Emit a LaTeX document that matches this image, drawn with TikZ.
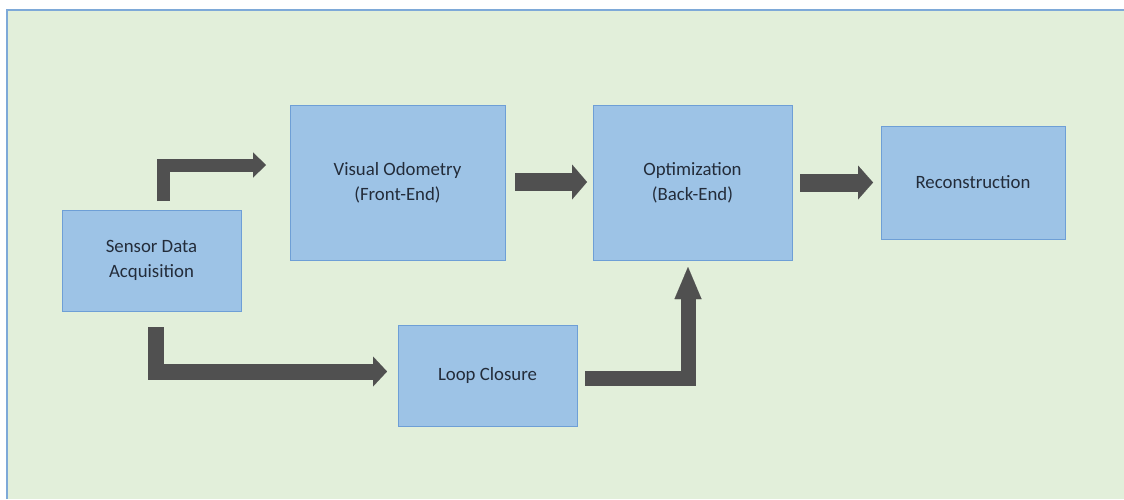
\documentclass[tikz,border=0pt]{standalone}
\usepackage{fontspec}
\setmainfont{Carlito}
\usetikzlibrary{arrows.meta}

\definecolor{panelgreen}{HTML}{E2EFDA}
\definecolor{panelline}{HTML}{7EA9D8}
\definecolor{boxfill}{HTML}{9DC3E6}
\definecolor{boxline}{HTML}{6E9FD6}
\definecolor{arrowgray}{HTML}{505050}
\definecolor{textdark}{HTML}{232C3A}

\tikzset{
  stage/.style={draw=boxline, line width=1pt, fill=boxfill, text=textdark,
    align=center, inner sep=0pt, outer sep=0pt,
    font=\fontsize{18.8}{25}\selectfont},
  fatarrow/.style n args={3}{draw=arrowgray, line width=#1pt, line join=miter,
    -{Triangle[length=#2pt, width=#3pt, line width=0.01pt]}}
}

\begin{document}
\begin{tikzpicture}[x=1pt, y=-1pt]
  \useasboundingbox (0,0) rectangle (1124,499);
  \fill[white] (0,0) rectangle (1124,499);

  % slide panel
  \fill[panelgreen] (7,10) rectangle (1124,499);
  \draw[panelline, line width=1.5pt] (7,499) -- (7,10) -- (1124,10);

  % pipeline stages
  \node[stage, minimum width=179pt, minimum height=101pt] (sda) at (151.5,260.5)
    {Sensor Data\\Acquisition};
  \node[stage, minimum width=215pt, minimum height=155pt] (vo) at (397.5,182.5)
    {Visual Odometry\\(Front-End)};
  \node[stage, minimum width=199pt, minimum height=155pt] (opt) at (692.5,182.5)
    {Optimization\\(Back-End)};
  \node[stage, minimum width=184pt, minimum height=113pt] (rec) at (973,182.5)
    {Reconstruction};
  \node[stage, minimum width=179pt, minimum height=101pt] (lc) at (487.5,375.5)
    {Loop Closure};

  % block arrows between stages
  \draw[fatarrow={13}{13}{25}]
    ([xshift=11.5pt, yshift=9pt]sda.north) |- ([xshift=-24pt, yshift=17.5pt]vo.west);
  \draw[fatarrow={18}{15}{35}]
    ([xshift=10pt, yshift=0.5pt]vo.east) -- ([xshift=-6pt, yshift=0.5pt]opt.west);
  \draw[fatarrow={18}{15}{34}]
    ([xshift=8pt, yshift=0pt]opt.east) -- ([xshift=-8pt, yshift=0pt]rec.west);
  \draw[fatarrow={16}{14}{30}]
    ([xshift=4pt, yshift=-16pt]sda.south) |- ([xshift=-11pt, yshift=4pt]lc.west);
  \draw[fatarrow={15}{32}{27}]
    ([xshift=8pt, yshift=-2.5pt]lc.east) -| ([xshift=-4.5pt, yshift=-7pt]opt.south);
\end{tikzpicture}
\end{document}
